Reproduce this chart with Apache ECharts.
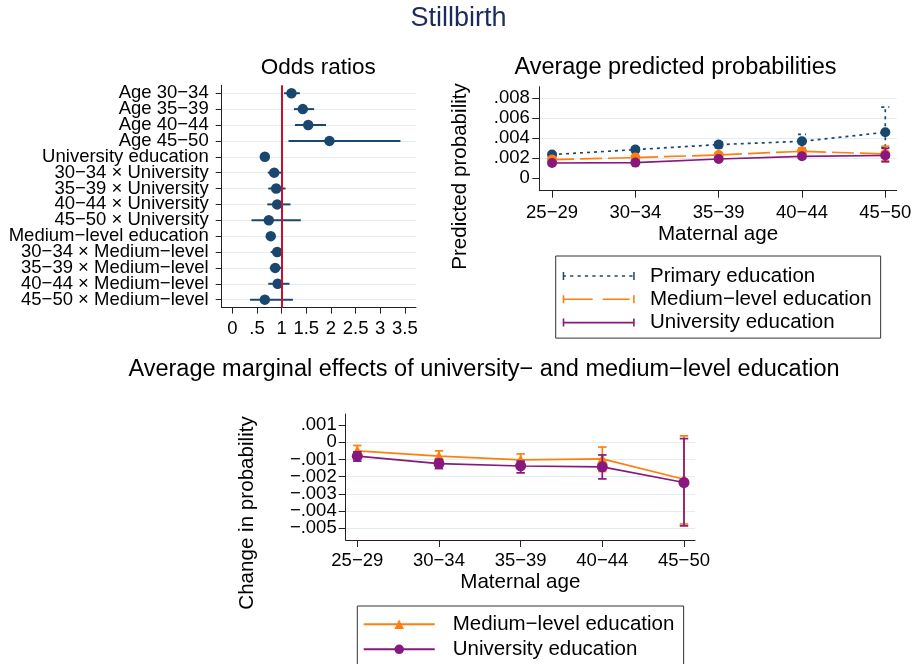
<!DOCTYPE html>
<html>
<head>
<meta charset="utf-8">
<title>Stillbirth</title>
<script src="https://cdn.jsdelivr.net/npm/echarts@6/dist/echarts.min.js"></script>
<style>
  html, body { margin: 0; padding: 0; background: #fff; }
  #chart { width: 917px; height: 664px; }
</style>
</head>
<body>
<div id="chart"></div>
<script>
// --- odds ratios
var orLabels = ['Age 30−34', 'Age 35−39', 'Age 40−44', 'Age 45−50', 'University education',
  '30−34 × University', '35−39 × University', '40−44 × University', '45−50 × University',
  'Medium−level education', '30−34 × Medium−level', '35−39 × Medium−level', '40−44 × Medium−level', '45−50 × Medium−level'];
var orEst  = [1.20, 1.43, 1.54, 1.97, 0.66, 0.85, 0.89, 0.91, 0.74, 0.78, 0.91, 0.87, 0.92, 0.66];
var orLow  = [1.05, 1.25, 1.27, 1.14, 0.62, 0.72, 0.73, 0.71, 0.39, 0.74, 0.78, 0.76, 0.73, 0.36];
var orHigh = [1.37, 1.66, 1.90, 3.41, 0.70, 1.03, 1.08, 1.18, 1.39, 0.82, 1.03, 1.01, 1.16, 1.23];
var orTicks = [0, 0.5, 1, 1.5, 2, 2.5, 3, 3.5];
var orRows = [0, 1, 2, 3, 4, 5, 6, 7, 8, 9, 10, 11, 12, 13];

// --- average predicted probabilities
var ageGroups = ['25−29', '30−34', '35−39', '40−44', '45−50'];
var ageIdx = [0, 1, 2, 3, 4];
var primEst  = [0.00237, 0.00287, 0.00337, 0.00370, 0.00460];
var primLow  = [0.00225, 0.00265, 0.00310, 0.00300, 0.00310];
var primHigh = [0.00250, 0.00310, 0.00365, 0.00440, 0.00712];
var medEst   = [0.00187, 0.00207, 0.00233, 0.00270, 0.00243];
var medLow   = [0.00175, 0.00192, 0.00215, 0.00245, 0.00175];
var medHigh  = [0.00200, 0.00222, 0.00252, 0.00295, 0.00320];
var uniEst   = [0.00153, 0.00157, 0.00193, 0.00220, 0.00228];
var uniLow   = [0.00140, 0.00145, 0.00180, 0.00205, 0.00165];
var uniHigh  = [0.00167, 0.00170, 0.00207, 0.00237, 0.00300];
var ppTicks = [0, 0.002, 0.004, 0.006, 0.008];

// --- average marginal effects
var meMedEst  = [-0.00050, -0.00081, -0.00103, -0.00097, -0.00215];
var meMedLow  = [-0.00080, -0.00112, -0.00138, -0.00170, -0.00475];
var meMedHigh = [-0.00019, -0.00050, -0.00068, -0.00028, 0.00037];
var meUniEst  = [-0.00081, -0.00124, -0.00138, -0.00143, -0.00234];
var meUniLow  = [-0.00110, -0.00153, -0.00178, -0.00213, -0.00486];
var meUniHigh = [-0.00056, -0.00099, -0.00110, -0.00074, 0.00021];
var meTicks = [-0.005, -0.004, -0.003, -0.002, -0.001, 0, 0.001];

var legendLabels = {
  pp_prim: 'Primary education',
  pp_med: 'Medium−level education',
  pp_uni: 'University education',
  me_med: 'Medium−level education',
  me_uni: 'University education'
};

var FONT = 'Liberation Sans, Arial, Helvetica, sans-serif';
var NAVY = '#1a476f', ORANGE = '#ff7f0e', PURPLE = '#87187f', RED = '#c8102e';
var GRID = '#e3ecef', AXIS = '#222';

function fmtDec(v) {
  if (Math.abs(v) < 1e-12) return '0';
  var s = Math.abs(v) < 1 ? Math.abs(v).toFixed(3).replace(/^0/, '') : String(Math.abs(v));
  return (v < 0 ? '−' : '') + s;
}
function fmtOr(v) {
  if (v === 0) return '0';
  return String(v).replace(/^0\./, '.');
}
function everyOther(arr, start) {
  return arr.filter(function (v, i) { return i % 2 === start; });
}

function ciVertical(capW, dash, lw) {
  return function (params, api) {
    var lo = api.coord([api.value(0), api.value(1)]);
    var hi = api.coord([api.value(0), api.value(2)]);
    var st = {stroke: api.visual('color'), lineWidth: lw, lineDash: dash, fill: null};
    var h = capW / 2;
    return {type: 'group', children: [
      {type: 'line', shape: {x1: lo[0], y1: lo[1], x2: hi[0], y2: hi[1]}, style: st},
      {type: 'line', shape: {x1: lo[0] - h, y1: lo[1], x2: lo[0] + h, y2: lo[1]}, style: st},
      {type: 'line', shape: {x1: hi[0] - h, y1: hi[1], x2: hi[0] + h, y2: hi[1]}, style: st}
    ]};
  };
}

function ciData(low, high) {
  return ageIdx.map(function (i) { return [i, low[i], high[i]]; });
}
function ptData(est) {
  return ageIdx.map(function (i) { return [i, est[i]]; });
}

function dotted(n, step, len) {
  var p = 'path://M0,0h1.5v8h-1.5z ';
  for (var i = 0; i < n; i++) p += 'M' + (i * step) + ',3.2h' + len + 'v1.6h-' + len + 'z ';
  return p + 'M70.5,0h1.5v8h-1.5z';
}

function valueAxis(grid, min, max, ticks, fmt, extra) {
  var ax = {
    type: 'value', gridIndex: grid, min: min, max: max,
    axisLine: {show: true, onZero: false, lineStyle: {color: AXIS, width: 1}},
    axisTick: {show: true, customValues: ticks, length: 7, lineStyle: {color: AXIS, width: 1}},
    axisLabel: {customValues: ticks, formatter: fmt, showMinLabel: true, showMaxLabel: true,
      hideOverlap: false, color: '#000', fontFamily: FONT, fontSize: 18.5},
    splitLine: {show: false}
  };
  for (var k in extra) {
    if (typeof extra[k] === 'object' && ax[k]) {
      for (var j in extra[k]) ax[k][j] = extra[k][j];
    } else {
      ax[k] = extra[k];
    }
  }
  return ax;
}

// second label-only axis, so that tightly packed labels are not dropped
function labelAxis(grid, min, max, ticks, fmt, margin, inverse) {
  return {
    type: 'value', gridIndex: grid, min: min, max: max, inverse: !!inverse, position: 'left',
    axisLine: {show: false, onZero: false}, axisTick: {show: false}, splitLine: {show: false},
    axisLabel: {customValues: ticks, formatter: fmt, showMinLabel: true, showMaxLabel: true,
      margin: margin, color: '#000', fontFamily: FONT, fontSize: 18.5}
  };
}

var chart = echarts.init(document.getElementById('chart'), null, {renderer: 'canvas'});

var option = {
  backgroundColor: '#fff',
  animation: false,
  grid: [
    {left: 221.7, top: 85.3, width: 194.3, height: 222.3},
    {left: 539.3, top: 86.7, width: 357.4, height: 104},
    {left: 345.7, top: 414, width: 349.3, height: 126}
  ],
  xAxis: [
    valueAxis(0, -0.215, 3.726, orTicks, fmtOr, {axisLabel: {margin: 11.5}, axisTick: {length: 6}}),
    valueAxis(1, -0.153, 4.137, ageIdx, function (v) { return ageGroups[v]; }, {
      axisLabel: {margin: 13}, name: 'Maternal age', nameLocation: 'middle', nameGap: 31.4,
      nameTextStyle: {color: '#000', fontFamily: FONT, fontSize: 20.6}
    }),
    valueAxis(2, -0.142, 4.135, ageIdx, function (v) { return ageGroups[v]; }, {
      axisLabel: {margin: 11.5}, name: 'Maternal age', nameLocation: 'middle', nameGap: 31.4,
      nameTextStyle: {color: '#000', fontFamily: FONT, fontSize: 20.6}
    })
  ],
  yAxis: [
    valueAxis(0, -0.5, 13.5, orRows, function (v) { return orLabels[v]; }, {
      inverse: true, position: 'left', axisLabel: {margin: 13, customValues: everyOther(orRows, 0)},
      axisTick: {length: 6},
      splitLine: {show: true, lineStyle: {color: GRID, width: 1.2}}
    }),
    valueAxis(1, -0.00124, 0.00916, ppTicks, fmtDec, {
      axisLabel: {margin: 9.5},
      splitLine: {show: true, showMinLine: false, lineStyle: {color: GRID, width: 1.2}}
    }),
    valueAxis(2, -0.00568, 0.00164, meTicks, fmtDec, {
      position: 'left', axisLabel: {margin: 9, customValues: everyOther(meTicks, 0)},
      splitLine: {show: true, showMaxLine: false, lineStyle: {color: GRID, width: 1.2}}
    }),
    labelAxis(0, -0.5, 13.5, everyOther(orRows, 1), function (v) { return orLabels[v]; }, 13, true),
    labelAxis(2, -0.00568, 0.00164, everyOther(meTicks, 1), fmtDec, 9, false)
  ],
  legend: [
    {
      orient: 'vertical', left: 555.7, top: 256, padding: [9.5, 9, 5, 7],
      itemWidth: 72, itemHeight: 8, itemGap: 2.3,
      borderColor: '#333', borderWidth: 1, selectedMode: false,
      itemStyle: {borderWidth: 0},
      textStyle: {color: '#000', fontFamily: FONT, fontSize: 20.5, lineHeight: 21, padding: [0, 0, 0, 10.3]},
      formatter: function (n) { return legendLabels[n]; },
      data: [
        {name: 'pp_prim', icon: dotted(10, 7.4, 3.2)},
        {name: 'pp_med', icon: 'path://M0,0h1.6v8h-1.6z M0,3.2h30v1.6h-30z M40,3.2h27v1.6h-27z M70.4,0h1.6v8h-1.6z'},
        {name: 'pp_uni', icon: 'path://M0,0h1.6v8h-1.6z M0,3.2h72v1.6h-72z M70.4,0h1.6v8h-1.6z'}
      ]
    },
    {
      orient: 'vertical', left: 357.3, top: 606, height: 200, padding: [7.8, 9.3, 20, 5.4],
      itemWidth: 71, itemHeight: 12, itemGap: 4,
      borderColor: '#333', borderWidth: 1, selectedMode: false,
      textStyle: {color: '#000', fontFamily: FONT, fontSize: 20.5, lineHeight: 21, padding: [0, 0, 0, 13]},
      formatter: function (n) { return legendLabels[n]; },
      data: ['me_med', 'me_uni']
    }
  ],
  graphic: [
    {type: 'text', x: 458.5, y: 18.3, style: {text: 'Stillbirth', fill: '#1c2b59', font: '27px ' + FONT, align: 'center', verticalAlign: 'middle'}},
    {type: 'text', x: 318.3, y: 67.5, style: {text: 'Odds ratios', fill: '#000', font: '22.5px ' + FONT, align: 'center', verticalAlign: 'middle'}},
    {type: 'text', x: 675.5, y: 67.6, style: {text: 'Average predicted probabilities', fill: '#000', font: '23.5px ' + FONT, align: 'center', verticalAlign: 'middle'}},
    {type: 'text', x: 484, y: 370, style: {text: 'Average marginal effects of university− and medium−level education', fill: '#000', font: '23.5px ' + FONT, align: 'center', verticalAlign: 'middle'}},
    {type: 'text', x: 460.5, y: 176.5, rotation: Math.PI / 2, style: {text: 'Predicted probability', fill: '#000', font: '20.6px ' + FONT, align: 'center', verticalAlign: 'middle'}},
    {type: 'text', x: 247.5, y: 513, rotation: Math.PI / 2, style: {text: 'Change in probability', fill: '#000', font: '20.6px ' + FONT, align: 'center', verticalAlign: 'middle'}}
  ],
  series: [
    // odds ratios
    {
      name: 'or_ci', type: 'custom', xAxisIndex: 0, yAxisIndex: 0, z: 2,
      itemStyle: {color: NAVY},
      encode: {x: [0, 1], y: 2},
      data: orRows.map(function (i) { return [orLow[i], orHigh[i], i]; }),
      renderItem: function (params, api) {
        var a = api.coord([api.value(0), api.value(2)]);
        var b = api.coord([api.value(1), api.value(2)]);
        return {type: 'line', shape: {x1: a[0], y1: a[1], x2: b[0], y2: b[1]},
          style: {stroke: api.visual('color'), lineWidth: 2}};
      }
    },
    {
      name: 'or_est', type: 'scatter', xAxisIndex: 0, yAxisIndex: 0, z: 3,
      symbol: 'circle', symbolSize: 10.5, itemStyle: {color: NAVY, opacity: 1},
      data: orRows.map(function (i) { return [orEst[i], i]; }),
      markLine: {
        silent: true, symbol: 'none', label: {show: false},
        lineStyle: {color: RED, width: 2, type: 'solid'},
        data: [{xAxis: 1}]
      }
    },
    // predicted probabilities
    {name: 'ci_prim', type: 'custom', xAxisIndex: 1, yAxisIndex: 1, z: 2, itemStyle: {color: NAVY},
      encode: {x: 0, y: [1, 2]}, data: ciData(primLow, primHigh), renderItem: ciVertical(8, [3, 4], 1.7)},
    {name: 'pp_prim', type: 'line', xAxisIndex: 1, yAxisIndex: 1, z: 3, data: ptData(primEst),
      symbol: 'circle', symbolSize: 10, showAllSymbol: true,
      itemStyle: {color: NAVY}, lineStyle: {color: NAVY, width: 1.7, type: [3, 4]}},
    {name: 'ci_med', type: 'custom', xAxisIndex: 1, yAxisIndex: 1, z: 4, itemStyle: {color: ORANGE},
      encode: {x: 0, y: [1, 2]}, data: ciData(medLow, medHigh), renderItem: ciVertical(8, [22, 6], 1.7)},
    {name: 'pp_med', type: 'line', xAxisIndex: 1, yAxisIndex: 1, z: 5, data: ptData(medEst),
      symbol: 'circle', symbolSize: 10, showAllSymbol: true,
      itemStyle: {color: ORANGE}, lineStyle: {color: ORANGE, width: 1.7, type: [22, 6]}},
    {name: 'ci_uni', type: 'custom', xAxisIndex: 1, yAxisIndex: 1, z: 6, itemStyle: {color: PURPLE},
      encode: {x: 0, y: [1, 2]}, data: ciData(uniLow, uniHigh), renderItem: ciVertical(8, null, 1.7)},
    {name: 'pp_uni', type: 'line', xAxisIndex: 1, yAxisIndex: 1, z: 7, data: ptData(uniEst),
      symbol: 'circle', symbolSize: 10, showAllSymbol: true,
      itemStyle: {color: PURPLE}, lineStyle: {color: PURPLE, width: 1.7}},
    // marginal effects
    {name: 'ci_me_med', type: 'custom', xAxisIndex: 2, yAxisIndex: 2, z: 2, itemStyle: {color: ORANGE},
      encode: {x: 0, y: [1, 2]}, data: ciData(meMedLow, meMedHigh), renderItem: ciVertical(8.5, null, 1.7)},
    {name: 'me_med', type: 'line', xAxisIndex: 2, yAxisIndex: 2, z: 3, data: ptData(meMedEst),
      symbol: 'triangle', symbolSize: 11, showAllSymbol: true,
      itemStyle: {color: ORANGE}, lineStyle: {color: ORANGE, width: 1.7}},
    {name: 'ci_me_uni', type: 'custom', xAxisIndex: 2, yAxisIndex: 2, z: 4, itemStyle: {color: PURPLE},
      encode: {x: 0, y: [1, 2]}, data: ciData(meUniLow, meUniHigh), renderItem: ciVertical(8.5, null, 1.7)},
    {name: 'me_uni', type: 'line', xAxisIndex: 2, yAxisIndex: 2, z: 5, data: ptData(meUniEst),
      symbol: 'circle', symbolSize: 11, showAllSymbol: true,
      itemStyle: {color: PURPLE}, lineStyle: {color: PURPLE, width: 1.7}}
  ]
};

chart.setOption(option);
</script>
</body>
</html>
